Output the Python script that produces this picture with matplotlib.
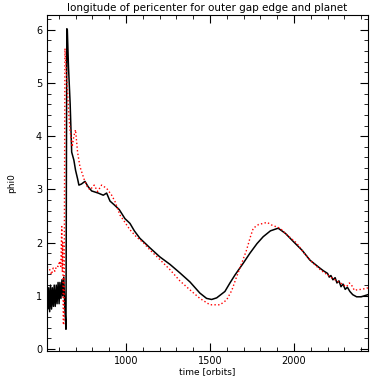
import matplotlib.pyplot as plt
from matplotlib.ticker import MultipleLocator

# black curve: outer gap edge
t_edge = [530, 535, 540, 546, 551, 557, 562, 568, 573, 579, 585, 590, 596, 602, 607, 613,
          619, 624, 630, 636, 643, 648, 651, 658, 668, 677, 690, 700, 712, 720, 735, 756,
          775, 796, 835, 865, 885, 905, 930, 960, 994, 1024, 1050, 1083, 1143, 1202, 1262,
          1321, 1381, 1440, 1480, 1510, 1540, 1589, 1619, 1649, 1700, 1738, 1780, 1817,
          1860, 1906, 1950, 1996, 2050, 2095, 2150, 2175, 2200, 2210, 2220, 2232, 2245,
          2256, 2268, 2280, 2292, 2305, 2318, 2333, 2350, 2373, 2400, 2440]
phi_edge = [1.0, 0.75, 1.15, 0.7, 1.2, 0.75, 1.15, 0.8, 1.2, 0.8, 1.2, 0.85, 1.25, 0.85, 1.25, 0.95,
            1.3, 1.0, 1.35, 0.8, 0.37, 6.02, 6.0, 5.3, 4.6, 3.7, 3.55, 3.36, 3.2, 3.08, 3.1, 3.15,
            3.05, 2.97, 2.93, 2.89, 2.93, 2.78, 2.71, 2.62, 2.45, 2.36, 2.22, 2.08, 1.90, 1.73, 1.59,
            1.43, 1.26, 1.05, 0.95, 0.93, 0.96, 1.08, 1.24, 1.39, 1.62, 1.80, 1.98, 2.11,
            2.22, 2.27, 2.17, 2.02, 1.85, 1.67, 1.53, 1.47, 1.42, 1.35, 1.38, 1.30, 1.34,
            1.24, 1.28, 1.17, 1.22, 1.12, 1.16, 1.08, 1.02, 0.98, 0.98, 1.02]

# red dotted curve: planet
t_planet = [530, 545, 557, 567, 577, 587, 597, 605, 612, 618, 621, 624, 627, 632, 637, 645,
            653, 660, 667, 674, 680, 690, 700, 712, 726, 752, 770, 786, 811, 831, 855, 885,
            915, 935, 964, 994, 1024, 1064, 1103, 1143, 1202, 1262, 1321, 1381, 1440, 1500,
            1560, 1599, 1630, 1659, 1690, 1718, 1740, 1758, 1790, 1817, 1840, 1867, 1917,
            1960, 2016, 2060, 2115, 2160, 2214, 2260, 2313, 2330, 2343, 2360, 2373, 2400,
            2433, 2440]
phi_planet = [1.55, 1.50, 1.40, 1.52, 1.46, 1.56, 1.55, 1.65, 1.55, 2.3, 1.45, 2.0, 0.45, 0.5, 5.65, 5.2,
              4.8, 4.4, 4.12, 3.95, 3.80, 4.0, 4.12, 3.7, 3.43, 3.18, 3.05, 2.99, 3.08, 2.96, 3.08, 3.02,
              2.89, 2.77, 2.52, 2.38, 2.24, 2.10, 2.00, 1.86, 1.68, 1.49, 1.28, 1.11, 0.95, 0.83,
              0.83, 0.92, 1.10, 1.36, 1.62, 1.86, 2.10, 2.27, 2.34, 2.36, 2.38, 2.33, 2.27,
              2.14, 1.99, 1.80, 1.61, 1.48, 1.36, 1.27, 1.17, 1.24, 1.20, 1.10, 1.11, 1.12,
              1.14, 1.15]

fig = plt.figure(figsize=(3.82, 3.82), dpi=100)
ax = fig.add_axes([0.123, 0.081, 0.84, 0.88])

ax.plot(t_edge, phi_edge, color='black', linewidth=1.1)
ax.plot(t_planet, phi_planet, color='red', linestyle=':', linewidth=1.0)

ax.set_xlim(530, 2440)
ax.set_ylim(-0.04, 6.28)
ax.xaxis.set_major_locator(MultipleLocator(500))
ax.xaxis.set_minor_locator(MultipleLocator(100))
ax.yaxis.set_major_locator(MultipleLocator(1))
ax.yaxis.set_minor_locator(MultipleLocator(0.2))
ax.tick_params(which='both', direction='in', top=True, right=True, labelsize=7)
ax.tick_params(which='major', length=6)
ax.tick_params(which='minor', length=3)

ax.set_title("longitude of pericenter for outer gap edge and planet", fontsize=7.5, pad=3)
ax.set_xlabel("time [orbits]", fontsize=6.5, labelpad=1)
ax.set_ylabel("phi0", fontsize=6.5, labelpad=14)

fig.savefig("out.png", dpi=100)
